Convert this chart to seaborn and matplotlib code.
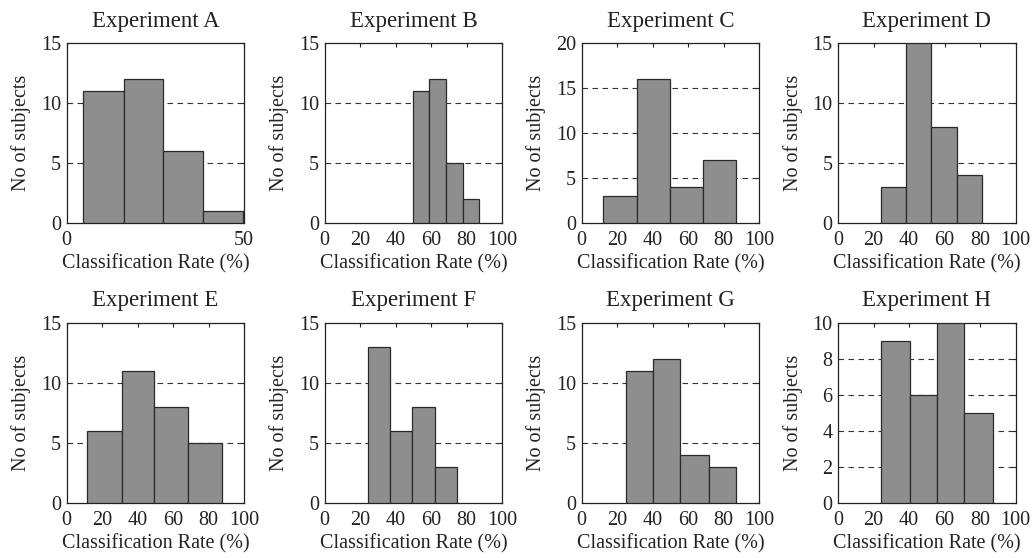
import numpy as np
import seaborn as sns
import matplotlib.pyplot as plt

# Histogram bin edges and counts per experiment
titles = ["Experiment A", "Experiment B", "Experiment C", "Experiment D",
          "Experiment E", "Experiment F", "Experiment G", "Experiment H"]

edges_a = [4.7, 16.0, 27.2, 38.5, 49.8]
counts_a = [11, 12, 6, 1]
edges_b = [49.6, 59.0, 68.3, 77.7, 87.1]
counts_b = [11, 12, 5, 2]
edges_c = [11.9, 31.0, 49.8, 68.1, 87.0]
counts_c = [3, 16, 4, 7]
edges_d = [24.5, 38.5, 52.5, 66.9, 80.9]
counts_d = [3, 15, 8, 4]
edges_e = [11.7, 31.1, 49.4, 68.5, 87.7]
counts_e = [6, 11, 8, 5]
edges_f = [24.3, 36.8, 49.2, 62.1, 74.7]
counts_f = [13, 6, 8, 3]
edges_g = [24.9, 40.0, 55.3, 71.7, 87.0]
counts_g = [11, 12, 4, 3]
edges_h = [24.5, 40.6, 55.7, 70.9, 87.1]
counts_h = [9, 6, 10, 5]

x_ticks_a = [0, 50]
x_ticks = [0, 20, 40, 60, 80, 100]
y_ticks_15 = [0, 5, 10, 15]
y_ticks_20 = [0, 5, 10, 15, 20]
y_ticks_10 = [0, 2, 4, 6, 8, 10]

panels = [
    (edges_a, counts_a, x_ticks_a, y_ticks_15),
    (edges_b, counts_b, x_ticks, y_ticks_15),
    (edges_c, counts_c, x_ticks, y_ticks_20),
    (edges_d, counts_d, x_ticks, y_ticks_15),
    (edges_e, counts_e, x_ticks, y_ticks_15),
    (edges_f, counts_f, x_ticks, y_ticks_15),
    (edges_g, counts_g, x_ticks, y_ticks_15),
    (edges_h, counts_h, x_ticks, y_ticks_10),
]

sns.set_style("white")
plt.rcParams["font.family"] = ["Liberation Serif", "DejaVu Serif"]

W, H = 1033, 558
fig = plt.figure(figsize=(W / 100, H / 100), dpi=100)

col_left = [66.7, 324.7, 581.7, 838.0]
row_top = [43.3, 323.0]
ax_w, ax_h = 177.5, 179.5

for i, (title, (edges, counts, xt, yt)) in enumerate(zip(titles, panels)):
    r, c = divmod(i, 4)
    left = col_left[c] / W
    bottom = 1 - (row_top[r] + ax_h) / H
    ax = fig.add_axes([left, bottom, ax_w / W, ax_h / H])

    e = np.asarray(edges)
    centers = (e[:-1] + e[1:]) / 2
    sns.histplot(x=centers, weights=counts, bins=edges, ax=ax,
                 color="#8e8e8e", edgecolor="#2a2a2a", linewidth=0.9,
                 alpha=1.0, zorder=3)

    ax.set_xlim(xt[0], xt[-1])
    ax.set_ylim(yt[0], yt[-1])
    ax.set_xticks(xt)
    ax.set_yticks(yt)
    ax.set_axisbelow(True)
    for y in yt[1:-1]:
        ax.axhline(y, color="#333333", lw=0.8, ls=(0, (5, 4)), zorder=1)

    ax.tick_params(direction="in", top=True, right=True, length=3,
                   width=0.8, color="#222222", labelsize=14.5, pad=4,
                   labelcolor="#222222")
    ax.tick_params(axis="x", pad=6)
    for sp in ax.spines.values():
        sp.set_visible(True)
        sp.set_color("#222222")
        sp.set_linewidth(0.9)

    ax.set_title(title, fontsize=16.5, pad=12, color="#222222")
    ax.set_xlabel("Classification Rate (%)", fontsize=14.5, labelpad=3,
                  color="#222222")
    ax.set_ylabel("No of subjects", fontsize=14.5, labelpad=7,
                  color="#222222")

fig.savefig("out.png", dpi=100)
